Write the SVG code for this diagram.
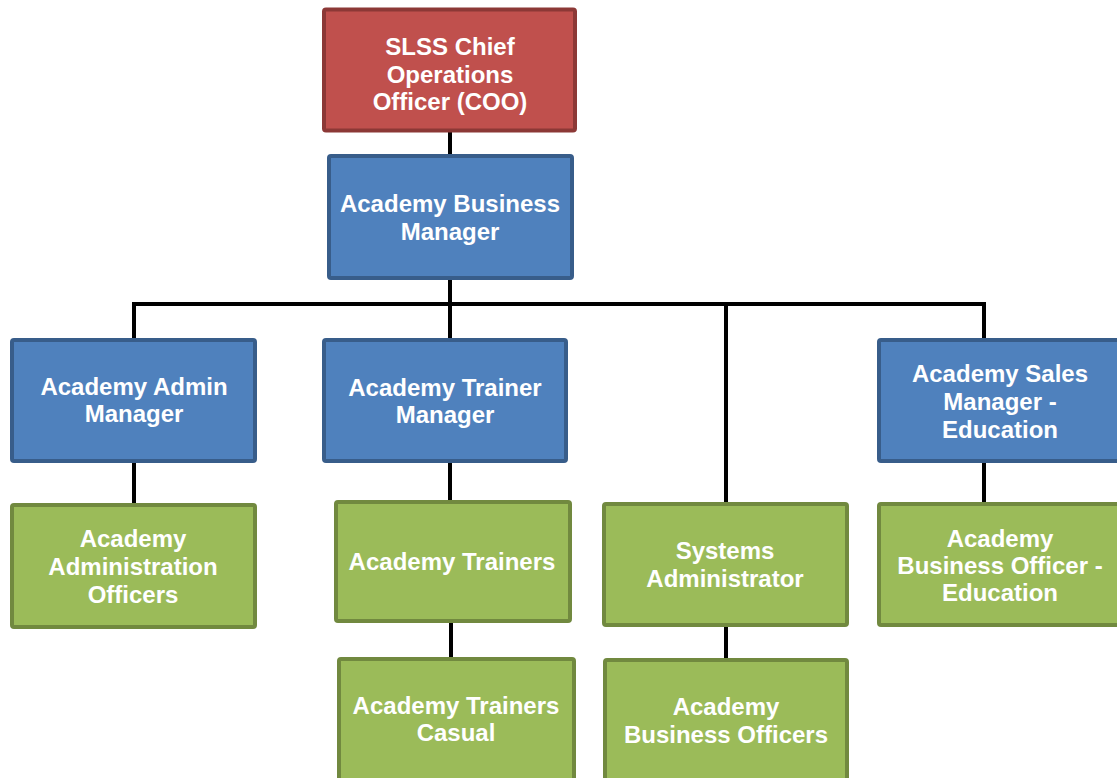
<svg xmlns="http://www.w3.org/2000/svg" width="1117" height="778" viewBox="0 0 1117 778">
<style>
.red{fill:#C0504D;stroke:#8C3836;stroke-width:4}
.blue{fill:#4F81BD;stroke:#385D8A;stroke-width:4}
.green{fill:#9BBB59;stroke:#71893F;stroke-width:4}
text{font-family:"Liberation Sans",Arial,sans-serif;font-weight:bold;font-size:24px;fill:#FFFFFF;text-anchor:middle}
.conn{fill:none;stroke:#000000;stroke-width:4}
</style>
<rect width="1117" height="778" fill="#FFFFFF"/>
<g id="connectors">
<path class="conn" d="M450 131V156"/>
<path class="conn" d="M450 278V304"/>
<path class="conn" d="M134 340V304H984V340"/>
<path class="conn" d="M450 304V340"/>
<path class="conn" d="M726 304V504"/>
<path class="conn" d="M134 461V505"/>
<path class="conn" d="M450 461V502"/>
<path class="conn" d="M451 621V659"/>
<path class="conn" d="M726 625V660"/>
<path class="conn" d="M984 461V504"/>
</g>
<g id="coo">
<rect class="red" x="324" y="9.5" width="251" height="121" rx="2"/>
<text x="450" y="55">SLSS Chief</text>
<text x="450" y="83">Operations</text>
<text x="450" y="110">Officer (COO)</text>
</g>
<g id="business-manager">
<rect class="blue" x="329" y="156" width="243" height="122" rx="2"/>
<text x="450" y="212">Academy Business</text>
<text x="450" y="240">Manager</text>
</g>
<g id="admin-manager">
<rect class="blue" x="12" y="340" width="243" height="121" rx="2"/>
<text x="134" y="395">Academy Admin</text>
<text x="134" y="422">Manager</text>
</g>
<g id="trainer-manager">
<rect class="blue" x="324" y="340" width="242" height="121" rx="2"/>
<text x="445" y="396">Academy Trainer</text>
<text x="445" y="423">Manager</text>
</g>
<g id="sales-manager">
<rect class="blue" x="879" y="340" width="245" height="121" rx="2"/>
<text x="1000" y="382">Academy Sales</text>
<text x="1000" y="410">Manager -</text>
<text x="1000" y="438">Education</text>
</g>
<g id="admin-officers">
<rect class="green" x="12" y="505" width="243" height="122" rx="2"/>
<text x="133" y="547">Academy</text>
<text x="133" y="575">Administration</text>
<text x="133" y="603">Officers</text>
</g>
<g id="trainers">
<rect class="green" x="336" y="502" width="234" height="119" rx="2"/>
<text x="452" y="570">Academy Trainers</text>
</g>
<g id="trainers-casual">
<rect class="green" x="339" y="659" width="235" height="125" rx="2"/>
<text x="456" y="714">Academy Trainers</text>
<text x="456" y="741">Casual</text>
</g>
<g id="systems-admin">
<rect class="green" x="604" y="504" width="243" height="121" rx="2"/>
<text x="725" y="559">Systems</text>
<text x="725" y="587">Administrator</text>
</g>
<g id="business-officers">
<rect class="green" x="605" y="660" width="242" height="125" rx="2"/>
<text x="726" y="715">Academy</text>
<text x="726" y="743">Business Officers</text>
</g>
<g id="business-officer-education">
<rect class="green" x="879" y="504" width="245" height="121" rx="2"/>
<text x="1000" y="547">Academy</text>
<text x="1000" y="574">Business Officer -</text>
<text x="1000" y="601">Education</text>
</g>
</svg>
